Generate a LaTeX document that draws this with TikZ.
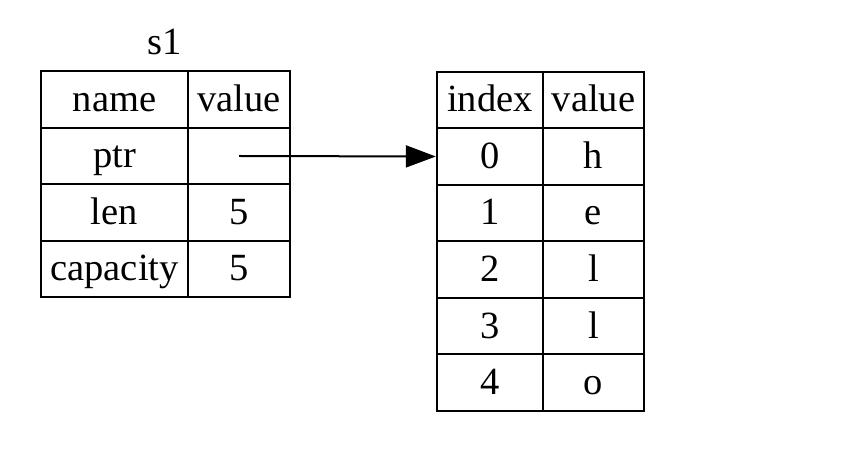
\documentclass[tikz,border=0pt]{standalone}
\usepackage{fontspec}
\setmainfont{Liberation Serif}
\usetikzlibrary{arrows.meta}

\begin{document}
\begin{tikzpicture}[x=0.5pt, y=-0.5pt,
    every node/.style={font=\fontsize{19.25pt}{23pt}\selectfont},
    cell/.style={draw, line width=1.2pt, inner sep=0pt, minimum height=28.25pt,
                 text height=15pt, text depth=3pt},
    namecell/.style={cell, minimum width=73.5pt},
    valcell/.style={cell, minimum width=51pt},
    idxcell/.style={cell, minimum width=53pt},
    chrcell/.style={cell, minimum width=50.5pt},
    pointer/.style={line width=1pt, -{Triangle[length=15pt, width=11pt]}}
]
\useasboundingbox (0,0) rectangle (865,458);

% String header s1
\node[anchor=base] (s1label) at (165,55) {s1};
\node[namecell] (hname) at (114.5,99.5) {name};
\node[valcell]  (hval)  at (239,99.5)   {value};
\node[namecell] (ptrname) at (114.5,156) {ptr};
\node[valcell]  (ptrval)  at (239,156)   {};
\node[namecell] (lenname) at (114.5,212.5) {len};
\node[valcell]  (lenval)  at (239,212.5)   {5};
\node[namecell] (capname) at (114.5,269) {capacity};
\node[valcell]  (capval)  at (239,269)   {5};

% Heap buffer
\node[idxcell] (hidx)  at (490,100)   {index};
\node[chrcell] (hchr)  at (593.5,100) {value};
\node[idxcell] (idx0)  at (490,156.5)   {0};
\node[chrcell] (chr0)  at (593.5,156.5) {h};
\node[idxcell] (idx1)  at (490,213)   {1};
\node[chrcell] (chr1)  at (593.5,213) {e};
\node[idxcell] (idx2)  at (490,269.5)   {2};
\node[chrcell] (chr2)  at (593.5,269.5) {l};
\node[idxcell] (idx3)  at (490,326)   {3};
\node[chrcell] (chr3)  at (593.5,326) {l};
\node[idxcell] (idx4)  at (490,382.5)   {4};
\node[chrcell] (chr4)  at (593.5,382.5) {o};

% ptr points to the first byte
\draw[pointer] (ptrval.center) -- (idx0.west);

\end{tikzpicture}
\end{document}
